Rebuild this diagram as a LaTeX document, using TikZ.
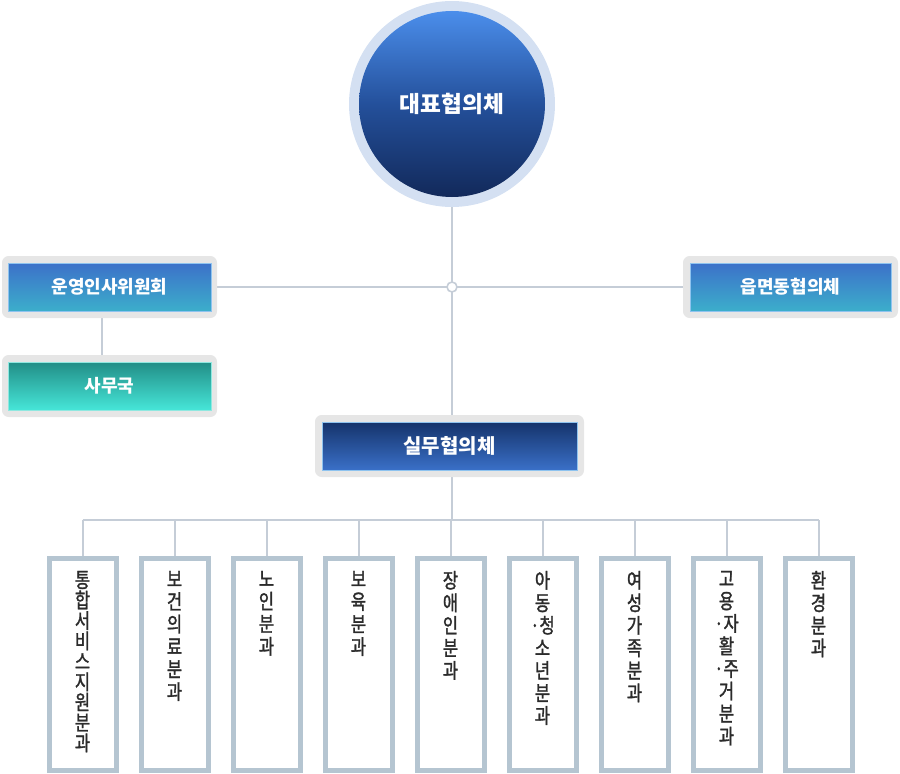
\documentclass[tikz,border=0pt]{standalone}
\usepackage{fontspec}
\setmainfont{Noto Sans CJK KR}
\newfontfamily\krnarrow[FakeStretch=0.8, FakeBold=1.5]{Noto Sans CJK KR}
\usepackage{xcolor}
\definecolor{ringblue}{HTML}{D4E0F2}
\definecolor{chairtop}{HTML}{4B8EEB}
\definecolor{chairmid}{HTML}{24509B}
\definecolor{chairbot}{HTML}{12295A}
\definecolor{plategray}{HTML}{E6E6E6}
\definecolor{skytop}{HTML}{3C71C9}
\definecolor{skybot}{HTML}{3CAECB}
\definecolor{skyedge}{HTML}{8EC3EF}
\definecolor{tealtop}{HTML}{228E87}
\definecolor{tealbot}{HTML}{46E6D8}
\definecolor{tealedge}{HTML}{8FE8E0}
\definecolor{navytop}{HTML}{15336B}
\definecolor{navybot}{HTML}{3A70C8}
\definecolor{linegray}{HTML}{C5CDD7}
\definecolor{paneedge}{HTML}{B5C5D1}
\definecolor{textgray}{HTML}{2B2B2B}
\usepackage{tikz}
\usetikzlibrary{positioning, backgrounds}

\tikzset{
  plate/.style={fill=plategray, rounded corners=5pt, inner sep=0pt},
  headbox/.style={line width=0.75pt, inner sep=0pt, text=white,
    font=\bfseries\fontsize{13.5pt}{15pt}\selectfont},
  conn/.style={draw=linegray, line width=1.5pt},
  pane/.style={draw=paneedge, line width=3.75pt, fill=white,
    minimum width=50.25pt, minimum height=159pt, inner sep=0pt},
  panetext/.style={text=textgray, align=center, inner sep=0pt,
    font=\krnarrow\fontsize{15.5pt}{16.9pt}\selectfont}
}

\begin{document}
\begin{tikzpicture}[x=0.75pt, y=-0.75pt]
  \useasboundingbox (0,0) rectangle (900,774);

  % Top circle
  \node[circle, fill=ringblue, minimum size=154.5pt, inner sep=0pt] (ring) at (452,104) {};
  \node[circle, top color=chairtop, bottom color=chairbot, middle color=chairmid,
        minimum size=139.5pt, inner sep=0pt, text=white,
        font=\bfseries\fontsize{17pt}{18pt}\selectfont] (chair) at (452,104) {대표협의체};

  % Side boxes
  \node[plate, minimum width=161.25pt, minimum height=46.5pt] (opsplate) at (109.5,287) {};
  \node[headbox, draw=skyedge, top color=skytop, bottom color=skybot,
        minimum width=152.25pt, minimum height=36pt] (ops) at (opsplate) {운영인사위원회};

  \node[plate, minimum width=161.25pt, minimum height=46.5pt] (secplate) at (109.5,386) {};
  \node[headbox, draw=tealedge, top color=tealtop, bottom color=tealbot,
        minimum width=152.25pt, minimum height=36pt] (sec) at (secplate) {사무국};

  \node[plate, minimum width=161.25pt, minimum height=46.5pt] (townplate) at (790.5,287) {};
  \node[headbox, draw=skyedge, top color=skytop, bottom color=skybot,
        minimum width=150.75pt, minimum height=36pt] (town) at (townplate) {읍면동협의체};

  % Hub
  \node[circle, draw=linegray, line width=1.2pt, fill=white, minimum size=7.5pt, inner sep=0pt] (hub) at (452,287) {};

  % Working council
  \node[plate, minimum width=201.75pt, minimum height=46.5pt] (workplate) at (449.5,446) {};
  \node[headbox, draw=skyedge, top color=navytop, bottom color=navybot,
        minimum width=191.25pt, minimum height=36pt,
        font=\bfseries\fontsize{15pt}{16pt}\selectfont] (work) at (workplate) {실무협의체};

  \coordinate (bus) at (452,520);

  % Subcommittees
  \node[pane] (p1) at (82.5,664.5) {};
  \node[pane] (p2) at (174.5,664.5) {};
  \node[pane] (p3) at (266.5,664.5) {};
  \node[pane] (p4) at (358.5,664.5) {};
  \node[pane] (p5) at (450.5,664.5) {};
  \node[pane] (p6) at (542.5,664.5) {};
  \node[pane] (p7) at (634.5,664.5) {};
  \node[pane] (p8) at (726.5,664.5) {};
  \node[pane] (p9) at (818.5,664.5) {};

  \node[panetext, below=11pt of p1.north, font=\krnarrow\fontsize{15.5pt}{15.3pt}\selectfont] (t1) {통\\합\\서\\비\\스\\지\\원\\분\\과};
  \node[panetext, below=11pt of p2.north] (t2) {보\\건\\의\\료\\분\\과};
  \node[panetext, below=11pt of p3.north] (t3) {노\\인\\분\\과};
  \node[panetext, below=11pt of p4.north] (t4) {보\\육\\분\\과};
  \node[panetext, below=11pt of p5.north] (t5) {장\\애\\인\\분\\과};
  \node[panetext, below=11pt of p6.north] (t6) {아\\동\\·청\\소\\년\\분\\과};
  \node[panetext, below=11pt of p7.north] (t7) {여\\성\\가\\족\\분\\과};
  \node[panetext, below=11pt of p8.north] (t8) {고\\용\\·자\\활\\·주\\거\\분\\과};
  \node[panetext, below=11pt of p9.north] (t9) {환\\경\\분\\과};

  % Connectors
  \begin{scope}[on background layer]
    \draw[conn] (ring.center) -- (bus);
    \draw[conn] (opsplate.center) -- (townplate.center);
    \draw[conn] ([xshift=-5.6pt]ops.south) -- ([xshift=-5.6pt]sec.north);
    \draw[conn] (p1.north |- bus) -- (p9.north |- bus);
    \foreach \n in {1,...,9}
      \draw[conn] (p\n.north) -- (p\n.north |- bus);
  \end{scope}
\end{tikzpicture}
\end{document}
